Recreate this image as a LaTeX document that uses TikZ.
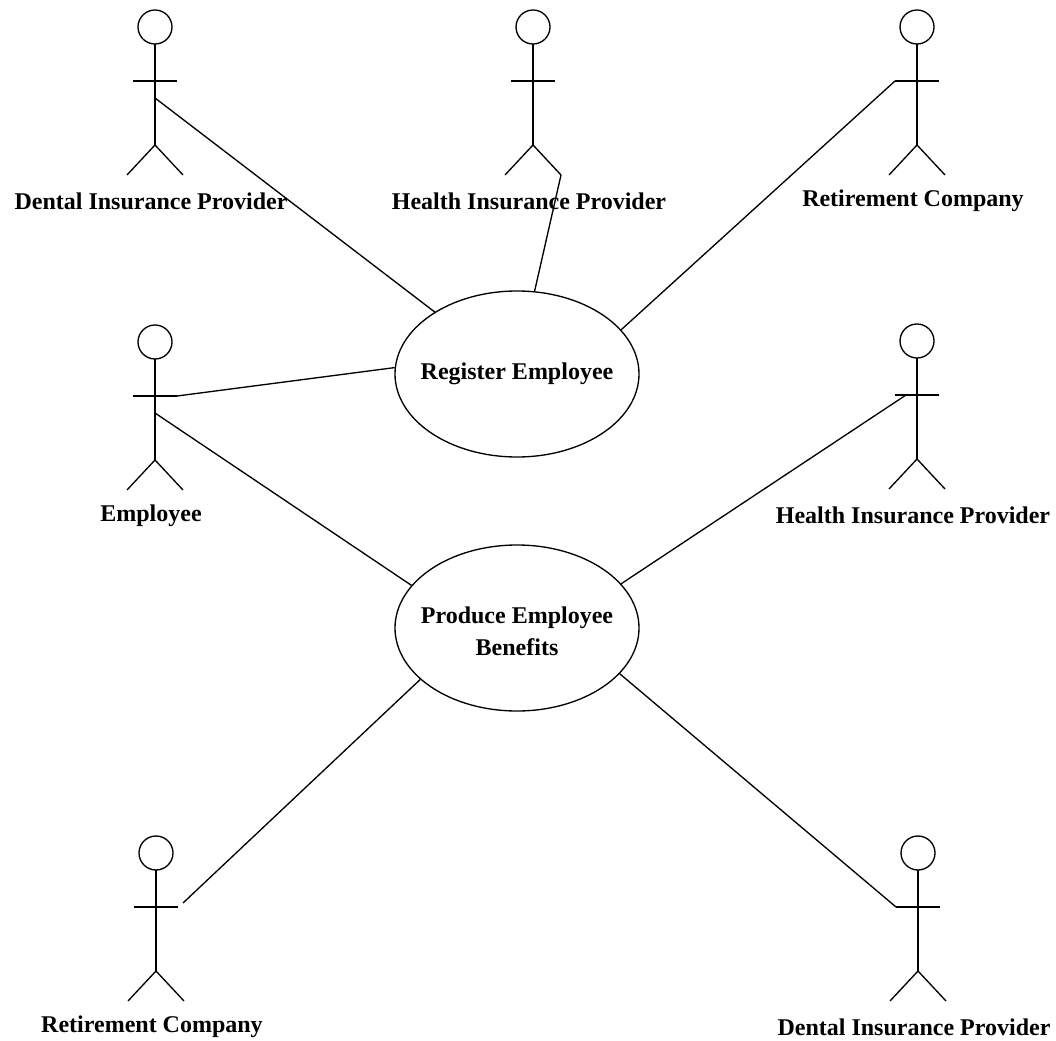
\documentclass[tikz,border=0pt]{standalone}
\usepackage{fontspec}
\setmainfont{Liberation Serif}
\usetikzlibrary{shapes.geometric}
\tikzset{
  every picture/.style={line width=1pt},
  lbl/.style={font=\fontsize{18}{24}\selectfont\bfseries, inner sep=0pt, align=center},
  usecase/.style={draw, ellipse, minimum width=183pt, minimum height=124.5pt, inner sep=0pt},
  pics/actor/.style={code={
    \draw (0,0) circle[radius=17];
    \draw (0,17) -- (0,118);
    \draw (-22,54) -- (22,54);
    \draw (-28,148) -- (0,118) -- (28,148);
    \coordinate (-al) at (-22,54);
    \coordinate (-am) at (-11,54);
    \coordinate (-ar) at (22,54);
    \coordinate (-ax) at (27,50);
    \coordinate (-body) at (0,71);
    \coordinate (-fr) at (28,148);
    \node[lbl] (-name) at (-4,174) {#1};
  }}
}
\begin{document}
\begin{tikzpicture}[x=0.75pt,y=-0.75pt]
\useasboundingbox (0,0) rectangle (1056,1041);
\node[usecase] (reg) at (517,374) {};
\node[lbl] (regtext) at (reg.center) {Register Employee};
\node[usecase] (prod) at (517,628) {};
\node[lbl] (prodtext) at ([yshift=-2.25pt]prod.center) {Produce Employee\\Benefits};
\pic (d1) at (155,27) {actor=Dental Insurance Provider};
\pic (h1) at (533,27) {actor=Health Insurance Provider};
\pic (r1) at (917,27) {actor=Retirement Company};
\pic (emp) at (155,342) {actor=Employee};
\pic (h2) at (917,341) {actor=Health Insurance Provider};
\pic (r2) at (156,853) {actor=Retirement Company};
\pic (d2) at (918,853) {actor=Dental Insurance Provider};
\draw (d1-body) -- (reg.143);
\draw (h1-fr) -- (reg.78);
\draw (r1-al) -- (reg.23);
\draw (emp-ar) -- (reg.177);
\draw (emp-body) -- (prod.158);
\draw (h2-am) -- (prod.23);
\draw (r2-ax) -- (prod.208);
\draw (d2-al) -- (prod.336);
\end{tikzpicture}
\end{document}
